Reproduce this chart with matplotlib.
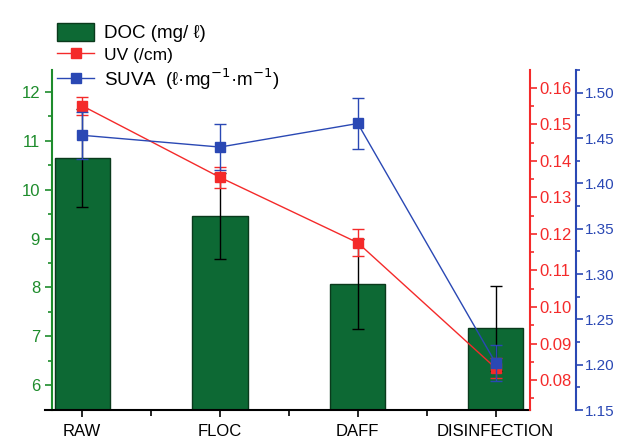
import matplotlib
matplotlib.use('Agg')
import matplotlib.pyplot as plt
from matplotlib.ticker import MultipleLocator
from matplotlib.patches import Patch
from matplotlib.lines import Line2D

plt.rcParams['font.family'] = ['Liberation Sans', 'DejaVu Sans']

stages = ['RAW', 'FLOC', 'DAFF', 'DISINFECTION']
doc = [10.65, 9.46, 8.07, 7.16]
doc_err = [1.0, 0.88, 0.93, 0.87]
uv = [0.1551, 0.1355, 0.1176, 0.0833]
uv_err = [0.0025, 0.0028, 0.0037, 0.0027]
suva = [1.453, 1.440, 1.466, 1.202]
suva_err = [0.026, 0.025, 0.0285, 0.02]

green_bar = '#0d6934'
green_ax = '#1e8c2c'
red = '#f42a2a'
blue = '#2a48b4'

fig = plt.figure(figsize=(6.21, 4.41), dpi=100)
ax = fig.add_axes([45 / 621, 1 - 410 / 441, 485 / 621, 340 / 441])
x = list(range(len(stages)))

ax.bar(x, doc, width=0.4, yerr=doc_err, color=green_bar, edgecolor='#0a3a1c',
       linewidth=1, error_kw=dict(ecolor='black', capsize=4, elinewidth=1, capthick=1))
ax.set_xlim(-0.27, 3.25)
ax.set_ylim(5.49, 12.45)
ax.set_xticks(x, stages)
ax.set_xticks([0.5, 1.5, 2.5], minor=True)
ax.yaxis.set_minor_locator(MultipleLocator(0.5))
ax.set_yticks(range(6, 13))
ax.tick_params(axis='x', which='major', length=5, width=1.2, labelsize=12, colors='black', pad=5)
ax.tick_params(axis='x', which='minor', length=4, width=1.2)
ax.tick_params(axis='y', which='both', colors=green_ax, labelsize=12, width=1.2)
ax.tick_params(axis='y', which='major', length=5)
ax.tick_params(axis='y', which='minor', length=3)
ax.spines['left'].set_position(('data', -0.22))
ax.spines['left'].set_color(green_ax)
ax.spines['left'].set_linewidth(1.5)
ax.spines['bottom'].set_linewidth(1.5)
ax.spines['top'].set_visible(False)
ax.spines['right'].set_visible(False)

ax2 = ax.twinx()
ax2.errorbar(x, uv, yerr=uv_err, color=red, marker='s', ms=7, lw=1,
             capsize=4, elinewidth=1, capthick=1)
ax2.set_ylim(0.0718, 0.1649)
ax2.yaxis.set_minor_locator(MultipleLocator(0.005))
ax2.set_yticks([0.08 + 0.01 * i for i in range(9)])
ax2.set_yticklabels(['%.2f' % (0.08 + 0.01 * i) for i in range(9)])
ax2.tick_params(axis='y', which='both', colors=red, labelsize=12, width=1.2, pad=2)
ax2.tick_params(axis='y', which='major', length=5)
ax2.tick_params(axis='y', which='minor', length=3)
ax2.spines['right'].set_color(red)
ax2.spines['right'].set_linewidth(1.5)
for s in ['left', 'top', 'bottom']:
    ax2.spines[s].set_visible(False)

ax3 = ax.twinx()
ax3.errorbar(x, suva, yerr=suva_err, color=blue, marker='s', ms=7, lw=1,
             capsize=4, elinewidth=1, capthick=1)
ax3.set_ylim(1.15, 1.525)
ax3.set_yticks([1.15 + 0.05 * i for i in range(8)])
ax3.set_yticklabels(['%.2f' % (1.15 + 0.05 * i) for i in range(8)])
ax3.yaxis.set_minor_locator(MultipleLocator(0.025))
ax3.tick_params(axis='y', which='both', colors=blue, labelsize=11, width=1.2, pad=1.5)
ax3.tick_params(axis='y', which='major', length=5)
ax3.tick_params(axis='y', which='minor', length=3)
ax3.spines['right'].set_position(('outward', 33))
ax3.spines['right'].set_color(blue)
ax3.spines['right'].set_linewidth(1.5)
for s in ['left', 'top', 'bottom']:
    ax3.spines[s].set_visible(False)

handles = [Patch(facecolor=green_bar, edgecolor='#0a3a1c'),
           Line2D([], [], color=red, marker='s', ms=7, lw=1),
           Line2D([], [], color=blue, marker='s', ms=7, lw=1)]
labels = ['DOC (mg/ ℓ)', 'UV (/cm)', 'SUVA  (ℓ·mg$^{-1}$·m$^{-1}$)']
leg = fig.legend(handles, labels, loc='upper left', bbox_to_anchor=(40 / 621, 1 - 6 / 441),
                 frameon=False, fontsize=13.5, handlelength=2.0, handleheight=1.1,
                 labelspacing=0.15, handletextpad=0.5)
leg.get_texts()[1].set_fontsize(12.5)

fig.savefig('out.png', dpi=100)
